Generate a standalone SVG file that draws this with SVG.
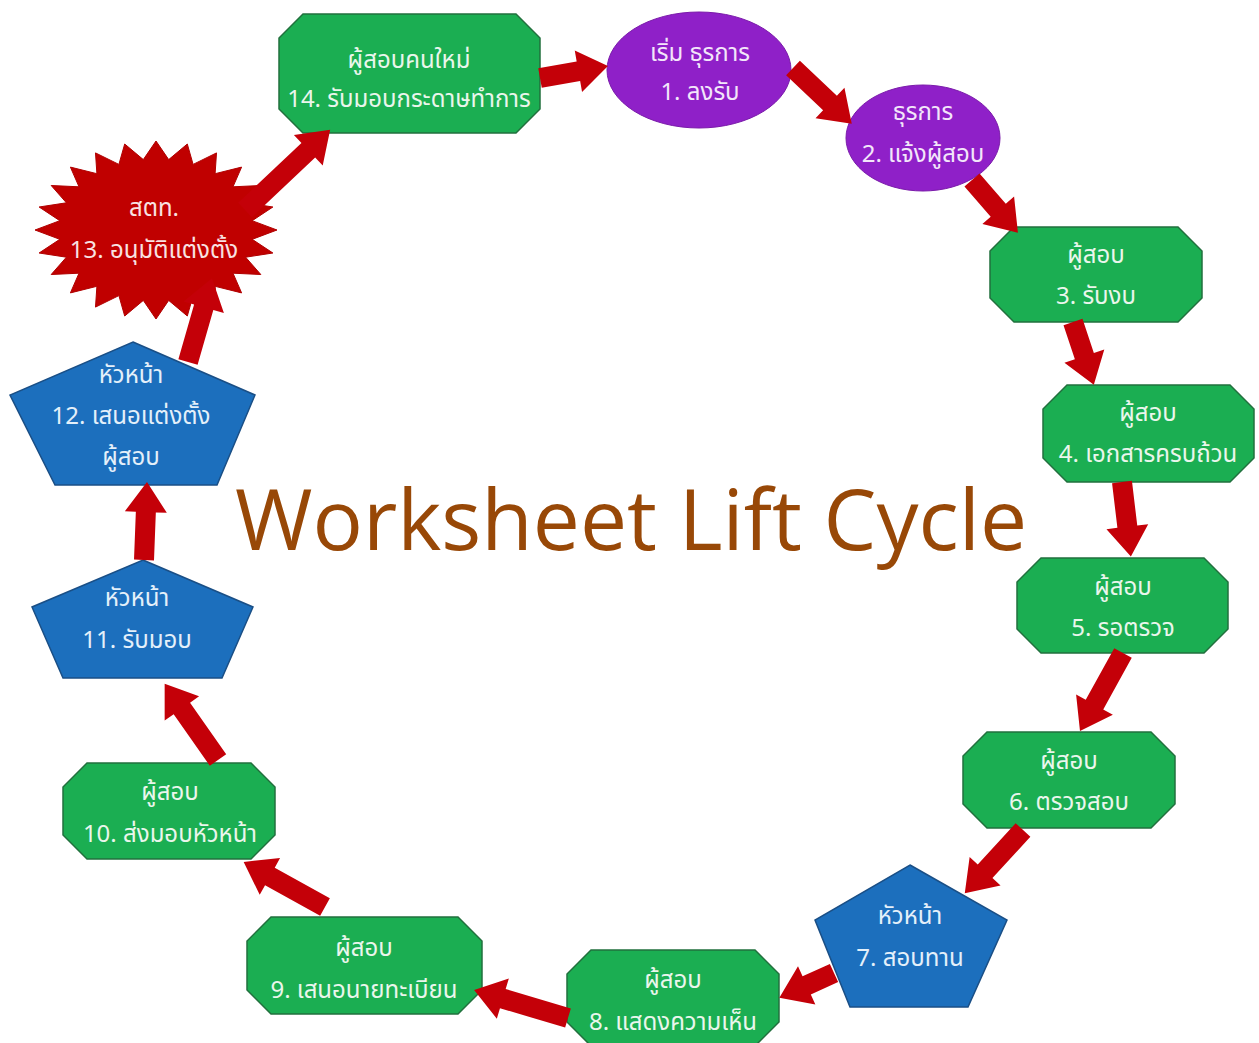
<svg xmlns="http://www.w3.org/2000/svg" width="1259" height="1043" viewBox="0 0 1259 1043">
<style>
.g{fill:#1BAE52;stroke:#22703E;stroke-width:1.5}
.p{fill:#8F20C8;stroke:#7A1AAA;stroke-width:1}
.b{fill:#1C6FBD;stroke:#1A4F86;stroke-width:1.5}
.s{fill:#C00000;stroke:#B00000;stroke-width:1}
.a{fill:#C40008}
text{font-family:Tahoma,"Noto Sans Thai","Noto Sans","DejaVu Sans",sans-serif;font-size:24px;text-anchor:middle}
.t{fill:#EAF6EC}
.tb{fill:#E4F0FA}
.tp{fill:#F3E6FA}
.tr{fill:#F8E2E2}
.title{font-family:"Open Sans","Liberation Sans",sans-serif;font-size:85px;fill:#984807;text-anchor:start}
</style>
<rect width="1259" height="1043" fill="#FFFFFF"/>
<text class="title" x="235" y="550" textLength="792" lengthAdjust="spacingAndGlyphs">Worksheet Lift Cycle</text>
<g id="node14"><polygon class="g" points="303,14 516,14 540,38 540,109 516,133 303,133 279,109 279,38"/><text class="t" x="409" y="68">ผู้สอบคนใหม่</text><text class="t" x="409" y="107">14. รับมอบกระดาษทำการ</text></g>
<g id="node1"><ellipse class="p" cx="699" cy="70" rx="92" ry="58"/><text class="tp" x="700" y="61">เริ่ม ธุรการ</text><text class="tp" x="700" y="100">1. ลงรับ</text></g>
<g id="node2"><ellipse class="p" cx="923" cy="138" rx="77" ry="53"/><text class="tp" x="923" y="120">ธุรการ</text><text class="tp" x="923" y="162">2. แจ้งผู้สอบ</text></g>
<g id="node3"><polygon class="g" points="1014,227 1178,227 1202,251 1202,298 1178,322 1014,322 990,298 990,251"/><text class="t" x="1096" y="263">ผู้สอบ</text><text class="t" x="1096" y="304">3. รับงบ</text></g>
<g id="node4"><polygon class="g" points="1067,385 1230,385 1254,409 1254,458 1230,482 1067,482 1043,458 1043,409"/><text class="t" x="1148" y="421">ผู้สอบ</text><text class="t" x="1148" y="462">4. เอกสารครบถ้วน</text></g>
<g id="node5"><polygon class="g" points="1041,558 1204,558 1228,582 1228,629 1204,653 1041,653 1017,629 1017,582"/><text class="t" x="1123" y="595">ผู้สอบ</text><text class="t" x="1123" y="636">5. รอตรวจ</text></g>
<g id="node6"><polygon class="g" points="987,732 1151,732 1175,756 1175,804 1151,828 987,828 963,804 963,756"/><text class="t" x="1069" y="769">ผู้สอบ</text><text class="t" x="1069" y="810">6. ตรวจสอบ</text></g>
<g id="node7"><polygon class="b" points="910,865 1007,920 968,1007 850,1007 815,920"/><text class="tb" x="910" y="924">หัวหน้า</text><text class="tb" x="910" y="966">7. สอบทาน</text></g>
<g id="node8"><polygon class="g" points="591,950 755,950 779,974 779,1022 755,1046 591,1046 567,1022 567,974"/><text class="t" x="673" y="988">ผู้สอบ</text><text class="t" x="673" y="1030">8. แสดงความเห็น</text></g>
<g id="node9"><polygon class="g" points="271,917 458,917 482,941 482,990 458,1014 271,1014 247,990 247,941"/><text class="t" x="364" y="956">ผู้สอบ</text><text class="t" x="364" y="998">9. เสนอนายทะเบียน</text></g>
<g id="node10"><polygon class="g" points="87,763 251,763 275,787 275,835 251,859 87,859 63,835 63,787"/><text class="t" x="170" y="800">ผู้สอบ</text><text class="t" x="170" y="842">10. ส่งมอบหัวหน้า</text></g>
<g id="node11"><polygon class="b" points="143,560 253,607 222,678 63,678 32,607"/><text class="tb" x="137" y="606">หัวหน้า</text><text class="tb" x="137" y="648">11. รับมอบ</text></g>
<g id="node12"><polygon class="b" points="133,342 255,395 217,485 55,485 10,395"/><text class="tb" x="131" y="383">หัวหน้า</text><text class="tb" x="131" y="424">12. เสนอแต่งตั้ง</text><text class="tb" x="131" y="465">ผู้สอบ</text></g>
<g id="node13"><polygon class="s" points="277,230 252.2,239.3 272.9,253 245.6,257.2 260.8,274.5 233,273.2 241.6,292.9 215.1,286.3 216.5,307.1 193.1,295.6 187.3,316 168.7,300.4 156,319 143.3,300.4 124.7,316 118.9,295.6 95.5,307.1 96.9,286.3 70.4,292.9 79,273.2 51.2,274.5 66.4,257.2 39.1,253 59.8,239.3 35,230 59.8,220.7 39.1,207 66.4,202.8 51.2,185.5 79,186.8 70.4,167.1 96.9,173.7 95.5,152.9 118.9,164.4 124.7,144 143.3,159.6 156,141 168.7,159.6 187.3,144 193.1,164.4 216.5,152.9 215.1,173.7 241.6,167.1 233,186.8 260.8,185.5 245.6,202.8 272.9,207 252.2,220.7"/><text class="tr" x="154" y="216">สตท.</text><text class="tr" x="154" y="258">13. อนุมัติแต่งตั้ง</text></g>
<g id="connectors">
<path class="a" d="M0,-10H39V-21L69,0L39,21V10H0Z" transform="translate(540,78) rotate(-10)"/>
<path class="a" d="M0,-10H51V-21L81,0L51,21V10H0Z" transform="translate(793,68) rotate(43.5)"/>
<path class="a" d="M0,-10H40V-21L70,0L40,21V10H0Z" transform="translate(972,180) rotate(49)"/>
<path class="a" d="M0,-10H36V-21L66,0L36,21V10H0Z" transform="translate(1073,322) rotate(71.6)"/>
<path class="a" d="M0,-10H45V-21L75,0L45,21V10H0Z" transform="translate(1122,482) rotate(83.2)"/>
<path class="a" d="M0,-10H59V-21L89,0L59,21V10H0Z" transform="translate(1123,653) rotate(118.9)"/>
<path class="a" d="M0,-10H56V-21L86,0L56,21V10H0Z" transform="translate(1023,830) rotate(132.6)"/>
<path class="a" d="M0,-10H30V-21L60,0L30,21V10H0Z" transform="translate(834,973) rotate(155.6)"/>
<path class="a" d="M0,-10H68V-21L98,0L68,21V10H0Z" transform="translate(568,1018) rotate(196.6)"/>
<path class="a" d="M0,-10H63V-21L93,0L63,21V10H0Z" transform="translate(325,907) rotate(209)"/>
<path class="a" d="M0,-10H63V-21L93,0L63,21V10H0Z" transform="translate(218,760) rotate(235)"/>
<path class="a" d="M0,-10H48V-21L78,0L48,21V10H0Z" transform="translate(144,560) rotate(-87.8)"/>
<path class="a" d="M0,-10H57V-21L87,0L57,21V10H0Z" transform="translate(188,362) rotate(-74)"/>
<path class="a" d="M0,-10H87V-21L117,0L87,21V10H0Z" transform="translate(245,210) rotate(-43.3)"/>
</g>
</svg>
